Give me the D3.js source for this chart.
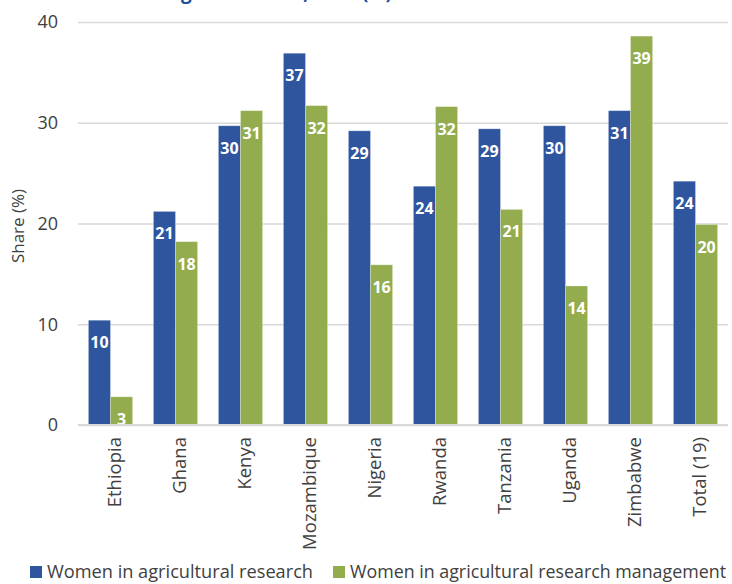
<!DOCTYPE html>
<html><head><meta charset="utf-8">
<script src="https://cdn.jsdelivr.net/npm/d3@7"></script>
<style>body{margin:0;background:#fff;}svg{display:block;}</style>
</head><body>
<svg id="chart" width="732" height="584"></svg>
<script>
const categories = ["Ethiopia","Ghana","Kenya","Mozambique","Nigeria","Rwanda","Tanzania","Uganda","Zimbabwe","Total (19)"];
const research = [10.4,21.2,29.7,36.9,29.2,23.7,29.4,29.7,31.2,24.2];
const management = [2.8,18.2,31.2,31.7,15.9,31.6,21.4,13.8,38.6,19.9];
const seriesNames = ["Women in agricultural research","Women in agricultural research management"];
const yTicks = [0,10,20,30,40];
const titleText = "Share of women at management level, 2014 (%)";

const colors = ["#2E559E","#93AD4E"];
const font = "'Open Sans', sans-serif";
const svg = d3.select("#chart");
const m = {left:78, right:728, top:22, bottom:425};

const x = d3.scaleBand().domain(categories).range([m.left, m.right]).paddingInner(0.32).paddingOuter(0.16);
const x1 = d3.scaleBand().domain([0,1]).range([0, x.bandwidth()]);
const y = d3.scaleLinear().domain([0,40]).range([m.bottom, m.top]);

// title (mostly above the visible area, as in the reference)
svg.append("text").attr("x",392).attr("y",-1).attr("text-anchor","end").attr("font-family",font).attr("font-weight","bold")
  .attr("font-size",19).attr("fill","#1F4E9C").text(titleText);

// gridlines
const yAxis = d3.axisLeft(y).tickValues(yTicks).tickSize(-(m.right-m.left)).tickPadding(20);
const ga = svg.append("g").attr("transform",`translate(${m.left},0)`).call(yAxis);
ga.select(".domain").remove();
ga.selectAll(".tick line").attr("stroke","#d9d9d9").attr("stroke-width",1.5);
ga.selectAll(".tick text").attr("font-family",font).attr("font-size",18).attr("fill","#404040");

// y axis title
svg.append("text").attr("transform","translate(24,226) rotate(-90)").attr("text-anchor","middle")
  .attr("font-family",font).attr("font-size",17).attr("fill","#404040").text("Share (%)");

// bars
const data = categories.map((c,i)=>({c, v:[research[i], management[i]]}));
const groups = svg.append("g").selectAll("g").data(data).join("g")
  .attr("transform",d=>`translate(${x(d.c)},0)`);
groups.selectAll("rect").data(d=>d.v.map((v,k)=>({v,k}))).join("rect")
  .attr("x",d=>x1(d.k)).attr("width",x1.bandwidth())
  .attr("y",d=>y(d.v)).attr("height",d=>y(0)-y(d.v))
  .attr("fill",d=>colors[d.k]).attr("stroke","#ffffff").attr("stroke-opacity",0.35).attr("stroke-width",0.8);
groups.selectAll("text").data(d=>d.v.map((v,k)=>({v,k}))).join("text")
  .attr("x",d=>x1(d.k)+x1.bandwidth()/2).attr("y",d=>y(d.v)+28)
  .attr("text-anchor","middle").attr("font-family",font).attr("font-weight","bold")
  .attr("font-size",16).attr("fill","#ffffff").text(d=>d3.format(".0f")(d.v));

// baseline
svg.append("line").attr("x1",m.left).attr("x2",m.right).attr("y1",y(0)).attr("y2",y(0))
  .attr("stroke","#d9d9d9").attr("stroke-width",2);

// x labels
svg.append("g").selectAll("text").data(categories).join("text")
  .attr("transform",d=>`translate(${x(d)+x.bandwidth()/2+10},437) rotate(-90)`)
  .attr("text-anchor","end").attr("font-family",font).attr("font-size",18.5).attr("fill","#404040").text(d=>d);

// legend
const legX = [30, 333];
const legW = [266, 376];
const lg = svg.append("g").selectAll("g").data(seriesNames).join("g")
  .attr("transform",(d,i)=>`translate(${legX[i]},566)`);
lg.append("rect").attr("width",12).attr("height",12).attr("fill",(d,i)=>colors[i]);
lg.append("text").attr("x",17).attr("y",12).attr("font-family",font).attr("font-size",18)
  .attr("textLength",(d,i)=>legW[i]).attr("lengthAdjust","spacingAndGlyphs")
  .attr("fill","#404040").text(d=>d);
</script>
</body></html>
